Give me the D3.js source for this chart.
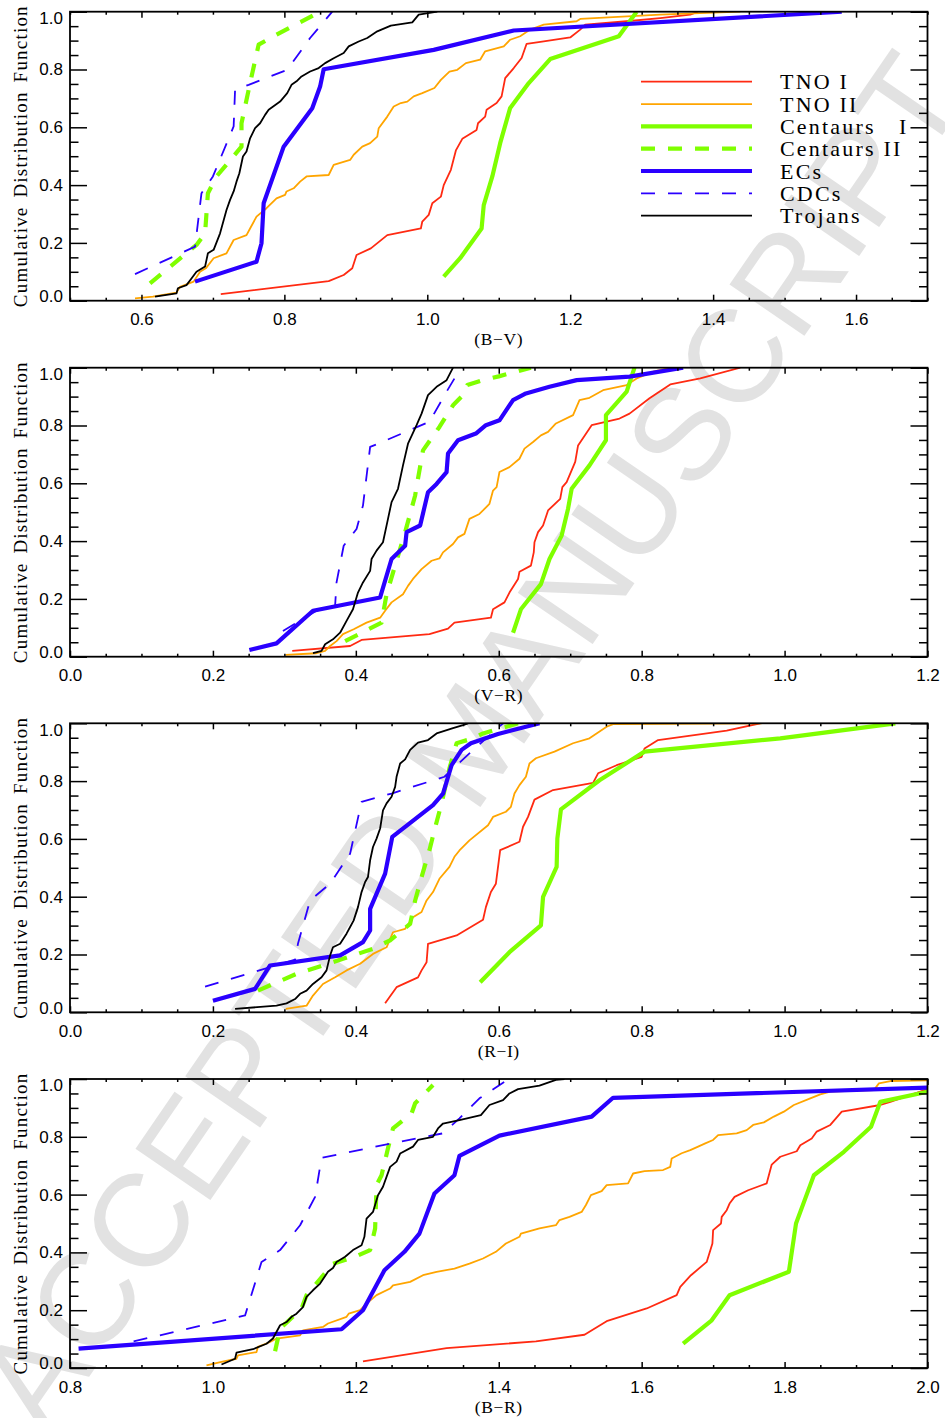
<!DOCTYPE html>
<html>
<head>
<meta charset="utf-8">
<script src="https://cdn.jsdelivr.net/npm/d3@7"></script>
<style>
  html, body { margin: 0; padding: 0; background: #fff; }
  svg { display: block; }
</style>
</head>
<body>
<svg id="chart" width="945" height="1418"></svg>
<script>
// ---- Series definitions (legend order) ----
const seriesNames  = ["TNO I", "TNO II", "Centaurs   I", "Centaurs II", "ECs", "CDCs", "Trojans"];
const seriesColors = ["#ff2a12", "#ffa500", "#7fff00", "#7fff00", "#2a00ff", "#2a00ff", "#000000"];

// ---- Axis settings ----
const xTitles = ["(B\u2212V)", "(V\u2212R)", "(R\u2212I)", "(B\u2212R)"];
const bvTicks = [0.6, 0.8, 1.0, 1.2, 1.4, 1.6];
const vrTicks = [0.0, 0.2, 0.4, 0.6, 0.8, 1.0, 1.2];
const riTicks = [0.0, 0.2, 0.4, 0.6, 0.8, 1.0, 1.2];
const brTicks = [0.8, 1.0, 1.2, 1.4, 1.6, 1.8, 2.0];
const yTicks  = [0.0, 0.2, 0.4, 0.6, 0.8, 1.0];
const xDomains = [[0.5, 1.7], [0.0, 1.2], [0.0, 1.2], [0.8, 2.0]];

// ---- (B-V) cumulative distributions: [colour, CDF] ----
const bvTnoI = [[0.711,0.023],[0.862,0.068],[0.883,0.089],[0.895,0.112],[0.901,0.158],[0.921,0.181],[0.944,0.227],[0.991,0.25],[0.993,0.274],[1.002,0.297],[1.007,0.337],[1.019,0.36],[1.023,0.40],[1.033,0.453],[1.04,0.52],[1.049,0.56],[1.069,0.591],[1.071,0.614],[1.081,0.637],[1.083,0.661],[1.097,0.684],[1.104,0.707],[1.109,0.77],[1.121,0.805],[1.132,0.84],[1.139,0.889],[1.163,0.897],[1.2,0.911],[1.214,0.938],[1.221,0.955],[1.279,0.967],[1.326,0.978],[1.368,0.99],[1.379,1.0]];
const bvTnoII = [[0.591,0.008],[0.616,0.014],[0.649,0.028],[0.654,0.048],[0.673,0.066],[0.682,0.1],[0.69,0.112],[0.701,0.147],[0.719,0.164],[0.729,0.21],[0.747,0.227],[0.752,0.25],[0.761,0.291],[0.775,0.32],[0.789,0.354],[0.801,0.366],[0.803,0.378],[0.813,0.389],[0.822,0.412],[0.831,0.43],[0.862,0.435],[0.869,0.47],[0.892,0.487],[0.897,0.505],[0.909,0.533],[0.92,0.545],[0.93,0.568],[0.932,0.597],[0.944,0.637],[0.953,0.672],[0.963,0.684],[0.972,0.689],[0.981,0.707],[0.993,0.718],[1.01,0.736],[1.019,0.764],[1.031,0.793],[1.042,0.799],[1.054,0.822],[1.074,0.834],[1.081,0.863],[1.107,0.88],[1.116,0.903],[1.13,0.915],[1.144,0.938],[1.163,0.955],[1.209,0.967],[1.214,0.975],[1.326,0.99],[1.438,1.0]];
const bvCenI = [[1.023,0.083],[1.046,0.147],[1.076,0.25],[1.079,0.331],[1.091,0.43],[1.102,0.545],[1.116,0.667],[1.142,0.753],[1.172,0.836],[1.268,0.915],[1.293,1.0]];
const bvCenII = [[0.612,0.06],[0.677,0.193],[0.689,0.233],[0.693,0.372],[0.705,0.43],[0.74,0.533],[0.74,0.614],[0.752,0.753],[0.764,0.886],[0.785,0.915],[0.85,1.0]];
const bvEC = [[0.675,0.066],[0.761,0.135],[0.768,0.199],[0.771,0.337],[0.799,0.533],[0.839,0.666],[0.85,0.741],[0.855,0.801],[1.009,0.868],[1.121,0.935],[1.58,1.0]];
const bvCDC = [[0.591,0.092],[0.675,0.187],[0.684,0.372],[0.7,0.43],[0.729,0.603],[0.731,0.73],[0.75,0.747],[0.804,0.799],[0.836,0.909],[0.867,1.0]];
const bvTro = [[0.619,0.014],[0.649,0.025],[0.651,0.043],[0.663,0.054],[0.67,0.077],[0.677,0.1],[0.689,0.118],[0.693,0.164],[0.701,0.176],[0.71,0.233],[0.719,0.314],[0.724,0.349],[0.729,0.378],[0.733,0.412],[0.737,0.441],[0.742,0.499],[0.747,0.516],[0.752,0.562],[0.759,0.597],[0.766,0.614],[0.773,0.643],[0.778,0.661],[0.794,0.689],[0.804,0.718],[0.81,0.747],[0.817,0.759],[0.824,0.776],[0.836,0.793],[0.848,0.805],[0.857,0.822],[0.869,0.839],[0.883,0.857],[0.89,0.88],[0.904,0.897],[0.916,0.909],[0.93,0.932],[0.949,0.952],[0.979,0.963],[0.988,0.99],[1.014,1.0]];

// ---- (V-R) ----
const vrTnoI = [[0.311,0.02],[0.392,0.037],[0.408,0.058],[0.503,0.078],[0.529,0.097],[0.538,0.118],[0.589,0.135],[0.592,0.164],[0.608,0.188],[0.615,0.222],[0.627,0.269],[0.629,0.294],[0.645,0.315],[0.649,0.361],[0.65,0.396],[0.655,0.431],[0.662,0.454],[0.669,0.506],[0.686,0.546],[0.689,0.587],[0.695,0.604],[0.707,0.674],[0.711,0.731],[0.73,0.801],[0.751,0.813],[0.769,0.824],[0.783,0.841],[0.811,0.894],[0.84,0.942],[0.882,0.963],[0.938,1.0]];
const vrTnoII = [[0.302,0.006],[0.345,0.012],[0.357,0.02],[0.364,0.037],[0.373,0.054],[0.382,0.078],[0.397,0.095],[0.415,0.118],[0.434,0.135],[0.441,0.159],[0.45,0.188],[0.466,0.216],[0.473,0.245],[0.48,0.269],[0.492,0.303],[0.506,0.332],[0.517,0.34],[0.522,0.361],[0.536,0.39],[0.543,0.413],[0.552,0.425],[0.559,0.477],[0.573,0.494],[0.578,0.506],[0.587,0.529],[0.592,0.575],[0.597,0.587],[0.601,0.639],[0.615,0.656],[0.629,0.685],[0.636,0.72],[0.648,0.743],[0.659,0.766],[0.669,0.778],[0.68,0.807],[0.704,0.836],[0.713,0.888],[0.727,0.896],[0.746,0.922],[0.779,0.94],[0.793,0.963],[0.816,0.986],[0.84,1.0]];
const vrCenI = [[0.62,0.083],[0.631,0.164],[0.659,0.251],[0.671,0.338],[0.688,0.419],[0.697,0.512],[0.702,0.581],[0.727,0.662],[0.75,0.749],[0.75,0.836],[0.779,0.917],[0.79,1.0]];
const vrCenII = [[0.385,0.054],[0.436,0.118],[0.443,0.216],[0.469,0.431],[0.483,0.558],[0.487,0.616],[0.494,0.714],[0.517,0.795],[0.536,0.87],[0.548,0.9],[0.556,0.94],[0.575,0.955],[0.6,0.97],[0.645,1.0]];
const vrEC = [[0.251,0.023],[0.289,0.046],[0.34,0.159],[0.434,0.205],[0.45,0.338],[0.469,0.384],[0.471,0.431],[0.49,0.454],[0.501,0.569],[0.513,0.598],[0.527,0.639],[0.529,0.703],[0.543,0.749],[0.568,0.772],[0.582,0.801],[0.601,0.818],[0.62,0.888],[0.638,0.911],[0.671,0.934],[0.709,0.957],[0.783,0.969],[0.858,1.0]];
const vrCDC = [[0.298,0.089],[0.345,0.159],[0.371,0.176],[0.373,0.257],[0.383,0.384],[0.401,0.442],[0.41,0.523],[0.42,0.726],[0.431,0.737],[0.503,0.813],[0.527,0.917],[0.541,0.975],[0.549,1.0]];
const vrTro = [[0.34,0.012],[0.352,0.02],[0.357,0.043],[0.368,0.06],[0.378,0.083],[0.387,0.124],[0.396,0.164],[0.403,0.222],[0.41,0.257],[0.42,0.297],[0.422,0.338],[0.429,0.367],[0.438,0.396],[0.445,0.477],[0.45,0.535],[0.459,0.581],[0.466,0.662],[0.473,0.737],[0.485,0.801],[0.492,0.841],[0.501,0.905],[0.513,0.934],[0.527,0.957],[0.536,1.0]];

// ---- (R-I) ----
const riTnoI = [[0.441,0.031],[0.457,0.087],[0.487,0.121],[0.492,0.145],[0.499,0.173],[0.501,0.237],[0.541,0.266],[0.578,0.32],[0.582,0.364],[0.589,0.416],[0.596,0.445],[0.602,0.561],[0.629,0.59],[0.634,0.642],[0.641,0.676],[0.65,0.736],[0.676,0.769],[0.732,0.794],[0.739,0.827],[0.765,0.855],[0.8,0.884],[0.804,0.913],[0.823,0.942],[0.919,0.975],[0.966,1.0]];
const riTnoII = [[0.302,0.012],[0.331,0.023],[0.34,0.058],[0.354,0.098],[0.371,0.121],[0.387,0.145],[0.406,0.168],[0.424,0.202],[0.443,0.225],[0.452,0.277],[0.469,0.289],[0.48,0.329],[0.492,0.347],[0.499,0.387],[0.508,0.416],[0.517,0.462],[0.531,0.503],[0.538,0.538],[0.545,0.56],[0.559,0.595],[0.585,0.647],[0.592,0.676],[0.61,0.694],[0.617,0.711],[0.622,0.757],[0.629,0.786],[0.638,0.815],[0.643,0.861],[0.652,0.879],[0.678,0.902],[0.704,0.931],[0.727,0.948],[0.751,0.988],[0.76,0.997],[0.968,1.0]];
const riCenI = [[0.574,0.104],[0.615,0.208],[0.659,0.301],[0.662,0.399],[0.681,0.503],[0.682,0.601],[0.687,0.702],[0.741,0.803],[0.804,0.902],[0.994,0.948],[1.155,1.0]];
const riCenII = [[0.263,0.075],[0.317,0.133],[0.382,0.185],[0.424,0.22],[0.448,0.249],[0.476,0.306],[0.483,0.387],[0.492,0.468],[0.503,0.561],[0.51,0.63],[0.52,0.723],[0.531,0.844],[0.541,0.931],[0.564,0.948],[0.578,0.965],[0.627,1.0]];
const riEC = [[0.2,0.04],[0.259,0.081],[0.28,0.162],[0.378,0.197],[0.41,0.243],[0.42,0.283],[0.42,0.358],[0.441,0.48],[0.451,0.607],[0.508,0.717],[0.522,0.757],[0.534,0.855],[0.548,0.908],[0.561,0.931],[0.599,0.963],[0.657,1.0]];
const riCDC = [[0.189,0.089],[0.315,0.182],[0.319,0.237],[0.336,0.387],[0.364,0.445],[0.392,0.549],[0.408,0.728],[0.45,0.757],[0.524,0.815],[0.559,0.896],[0.606,1.0]];
const riTro = [[0.231,0.012],[0.289,0.023],[0.303,0.031],[0.315,0.046],[0.322,0.064],[0.331,0.075],[0.34,0.098],[0.352,0.121],[0.359,0.145],[0.364,0.197],[0.368,0.225],[0.378,0.237],[0.387,0.272],[0.392,0.295],[0.397,0.318],[0.403,0.364],[0.408,0.416],[0.413,0.451],[0.417,0.468],[0.42,0.526],[0.424,0.572],[0.429,0.601],[0.434,0.636],[0.438,0.699],[0.443,0.723],[0.45,0.746],[0.455,0.78],[0.457,0.815],[0.462,0.861],[0.469,0.875],[0.476,0.908],[0.487,0.933],[0.501,0.942],[0.513,0.965],[0.536,0.983],[0.55,0.994],[0.557,1.0]];

// ---- (B-R) ----
const brTnoI = [[1.21,0.023],[1.327,0.069],[1.452,0.092],[1.52,0.115],[1.551,0.162],[1.607,0.206],[1.649,0.252],[1.654,0.281],[1.669,0.321],[1.691,0.367],[1.699,0.431],[1.7,0.477],[1.711,0.5],[1.712,0.523],[1.719,0.546],[1.723,0.569],[1.73,0.592],[1.749,0.615],[1.775,0.639],[1.782,0.704],[1.794,0.731],[1.817,0.75],[1.822,0.771],[1.838,0.794],[1.845,0.818],[1.864,0.841],[1.88,0.887],[1.934,0.91],[1.948,0.921],[2.0,0.965]];
const brTnoII = [[0.991,0.009],[1.012,0.021],[1.033,0.032],[1.035,0.044],[1.061,0.055],[1.063,0.073],[1.08,0.09],[1.089,0.102],[1.122,0.113],[1.126,0.13],[1.154,0.142],[1.161,0.154],[1.187,0.177],[1.19,0.188],[1.206,0.2],[1.215,0.223],[1.229,0.252],[1.248,0.275],[1.252,0.286],[1.276,0.298],[1.294,0.321],[1.313,0.333],[1.338,0.344],[1.359,0.361],[1.378,0.379],[1.396,0.402],[1.41,0.431],[1.429,0.454],[1.431,0.465],[1.457,0.483],[1.48,0.494],[1.485,0.512],[1.499,0.523],[1.516,0.54],[1.522,0.564],[1.529,0.598],[1.544,0.612],[1.551,0.633],[1.581,0.639],[1.588,0.673],[1.604,0.681],[1.63,0.685],[1.64,0.696],[1.642,0.725],[1.656,0.743],[1.668,0.754],[1.679,0.766],[1.689,0.777],[1.7,0.789],[1.707,0.806],[1.733,0.812],[1.747,0.823],[1.756,0.841],[1.771,0.85],[1.785,0.87],[1.799,0.887],[1.813,0.91],[1.836,0.933],[1.85,0.947],[1.864,0.956],[1.925,0.962],[1.932,0.985],[1.948,0.993],[2.0,0.995]];
const brCenI = [[1.658,0.084],[1.698,0.165],[1.723,0.252],[1.806,0.333],[1.816,0.5],[1.829,0.587],[1.841,0.667],[1.883,0.748],[1.921,0.835],[1.934,0.921],[2.0,0.956]];
const brCenII = [[1.087,0.058],[1.094,0.136],[1.124,0.206],[1.131,0.252],[1.168,0.361],[1.199,0.385],[1.22,0.408],[1.227,0.483],[1.229,0.633],[1.236,0.667],[1.245,0.76],[1.252,0.829],[1.278,0.881],[1.283,0.916],[1.308,0.979]];
const brEC = [[0.812,0.067],[1.18,0.134],[1.21,0.2],[1.24,0.338],[1.268,0.402],[1.289,0.465],[1.31,0.604],[1.338,0.667],[1.345,0.734],[1.401,0.804],[1.53,0.87],[1.56,0.935],[2.0,0.97]];
const brCDC = [[0.889,0.092],[1.045,0.182],[1.068,0.367],[1.094,0.408],[1.122,0.494],[1.143,0.592],[1.152,0.727],[1.238,0.771],[1.322,0.812],[1.345,0.864],[1.373,0.933],[1.408,0.99]];
const brTro = [[1.012,0.012],[1.031,0.032],[1.033,0.053],[1.056,0.065],[1.075,0.084],[1.084,0.102],[1.094,0.148],[1.103,0.159],[1.11,0.177],[1.117,0.188],[1.126,0.211],[1.131,0.246],[1.14,0.269],[1.15,0.292],[1.161,0.333],[1.168,0.346],[1.173,0.367],[1.185,0.385],[1.196,0.408],[1.208,0.425],[1.212,0.454],[1.215,0.517],[1.224,0.54],[1.231,0.598],[1.238,0.627],[1.248,0.696],[1.257,0.714],[1.262,0.742],[1.28,0.766],[1.287,0.789],[1.308,0.8],[1.315,0.829],[1.322,0.846],[1.345,0.858],[1.375,0.875],[1.387,0.91],[1.406,0.927],[1.415,0.95],[1.427,0.965],[1.457,0.977],[1.48,0.997],[1.492,1.0]];

// ---- Layout & styling ----
const plotLeft = 70, plotRight = 927.5, panelHeight = 289;
const panelTops = [11.7, 367.7, 723.3, 1079];
const seriesWidths = [1.8, 1.8, 4.2, 4.2, 4.2, 1.8, 1.8];
const seriesDashes = [null, null, null, "14,13", null, "14,13", null];
const majorTicksPerPanel = [bvTicks, vrTicks, riTicks, brTicks];
const panelSeries = [
  [bvTnoI, bvTnoII, bvCenI, bvCenII, bvEC, bvCDC, bvTro],
  [vrTnoI, vrTnoII, vrCenI, vrCenII, vrEC, vrCDC, vrTro],
  [riTnoI, riTnoII, riCenI, riCenII, riEC, riCDC, riTro],
  [brTnoI, brTnoII, brCenI, brCenII, brEC, brCDC, brTro]
];

const svg = d3.select("#chart");
const tickFont = "'Liberation Sans', Arial, Helvetica, sans-serif";
const textFont = "'Liberation Serif', 'Times New Roman', serif";

// Diagonal watermark behind everything
svg.append("text")
  .attr("transform", "translate(470,742) rotate(-55.5)")
  .attr("text-anchor", "middle")
  .attr("dominant-baseline", "central")
  .attr("font-family", tickFont)
  .attr("font-size", 132)
  .attr("fill", "#e2e2e2")
  .text("ACCEPTED MANUSCRIPT");

const fmt = d3.format(".1f");
const minorRange = (d) => d3.range(Math.round(d[0] * 20), Math.round(d[1] * 20) + 1).map(i => i / 20);

panelSeries.forEach((seriesList, p) => {
  const top = panelTops[p], bottom = top + panelHeight;
  const x = d3.scaleLinear().domain(xDomains[p]).range([plotLeft, plotRight]);
  const y = d3.scaleLinear().domain([0, 1]).range([bottom, top]);
  const g = svg.append("g");

  const clipId = "clip" + p;
  svg.append("clipPath").attr("id", clipId)
    .append("rect").attr("x", plotLeft).attr("y", top)
    .attr("width", plotRight - plotLeft).attr("height", panelHeight);

  // Curves
  const line = d3.line().x(d => x(d[0])).y(d => y(d[1]));
  const curves = g.append("g").attr("clip-path", `url(#${clipId})`);
  seriesList.forEach((data, s) => {
    curves.append("path")
      .datum(data)
      .attr("d", line)
      .attr("fill", "none")
      .attr("stroke", seriesColors[s])
      .attr("stroke-width", seriesWidths[s])
      .attr("stroke-linejoin", "round")
      .attr("stroke-dasharray", seriesDashes[s]);
  });

  // Minor/major tick sets
  const xMajor = majorTicksPerPanel[p];
  const xMinor = minorRange(xDomains[p]).filter(v => !xMajor.some(m => Math.abs(m - v) < 1e-6));
  const yMinor = minorRange([0, 1]).filter(v => !yTicks.some(m => Math.abs(m - v) < 1e-6));

  const styleAxis = (sel) => {
    sel.select(".domain").remove();
    sel.selectAll(".tick line").attr("stroke", "#000").attr("stroke-width", 1.5);
  };

  // Bottom axis with labels
  g.append("g").attr("transform", `translate(0,${bottom})`)
    .call(d3.axisBottom(x).tickValues(xMajor).tickSize(-6).tickPadding(12.5).tickFormat(fmt))
    .call(styleAxis)
    .call(a => a.selectAll("text").attr("font-family", tickFont).attr("font-size", 17).attr("fill", "#000"));
  g.append("g").attr("transform", `translate(0,${bottom})`)
    .call(d3.axisBottom(x).tickValues(xMinor).tickSize(-3).tickFormat(""))
    .call(styleAxis);
  // Top axis (ticks only)
  g.append("g").attr("transform", `translate(0,${top})`)
    .call(d3.axisTop(x).tickValues(xMajor).tickSize(-6).tickFormat(""))
    .call(styleAxis);
  g.append("g").attr("transform", `translate(0,${top})`)
    .call(d3.axisTop(x).tickValues(xMinor).tickSize(-3).tickFormat(""))
    .call(styleAxis);

  // Left axis with labels
  g.append("g").attr("transform", `translate(${plotLeft},0)`)
    .call(d3.axisLeft(y).tickValues(yTicks).tickSize(-17).tickPadding(7).tickFormat(fmt))
    .call(styleAxis)
    .call(a => a.selectAll("text")
      .attr("font-family", tickFont).attr("font-size", 17).attr("fill", "#000")
      .attr("transform", d => d === 1 ? "translate(0,6.5)" : (d === 0 ? "translate(0,-4.5)" : null)));
  g.append("g").attr("transform", `translate(${plotLeft},0)`)
    .call(d3.axisLeft(y).tickValues(yMinor).tickSize(-8.5).tickFormat(""))
    .call(styleAxis);
  // Right axis (ticks only)
  g.append("g").attr("transform", `translate(${plotRight},0)`)
    .call(d3.axisRight(y).tickValues(yTicks).tickSize(-17).tickFormat(""))
    .call(styleAxis);
  g.append("g").attr("transform", `translate(${plotRight},0)`)
    .call(d3.axisRight(y).tickValues(yMinor).tickSize(-8.5).tickFormat(""))
    .call(styleAxis);

  // Frame
  g.append("rect")
    .attr("x", plotLeft).attr("y", top)
    .attr("width", plotRight - plotLeft).attr("height", panelHeight)
    .attr("fill", "none").attr("stroke", "#000").attr("stroke-width", 1.8);

  // Axis titles
  g.append("text")
    .attr("x", (plotLeft + plotRight) / 2).attr("y", bottom + 44.5)
    .attr("text-anchor", "middle")
    .attr("font-family", textFont).attr("font-size", 17.5)
    .attr("letter-spacing", 0.6)
    .text(xTitles[p]);
  g.append("text")
    .attr("transform", `translate(26.5,${(top + bottom) / 2}) rotate(-90)`)
    .attr("text-anchor", "middle")
    .attr("font-family", textFont).attr("font-size", 19)
    .attr("letter-spacing", 1.2)
    .attr("word-spacing", 3)
    .text("Cumulative Distribution Function");

  // Legend in the first panel
  if (p === 0) {
    const leg = g.append("g");
    seriesNames.forEach((name, s) => {
      const ly = 81.7 + s * 22.33;
      leg.append("line")
        .attr("x1", 641).attr("x2", 752).attr("y1", ly).attr("y2", ly)
        .attr("stroke", seriesColors[s])
        .attr("stroke-width", seriesWidths[s])
        .attr("stroke-dasharray", seriesDashes[s]);
      leg.append("text")
        .attr("x", 780).attr("y", ly + 7.5)
        .attr("font-family", textFont).attr("font-size", 22)
        .attr("letter-spacing", 2.2)
        .style("white-space", "pre")
        .text(name);
    });
  }
});
</script>
</body>
</html>
